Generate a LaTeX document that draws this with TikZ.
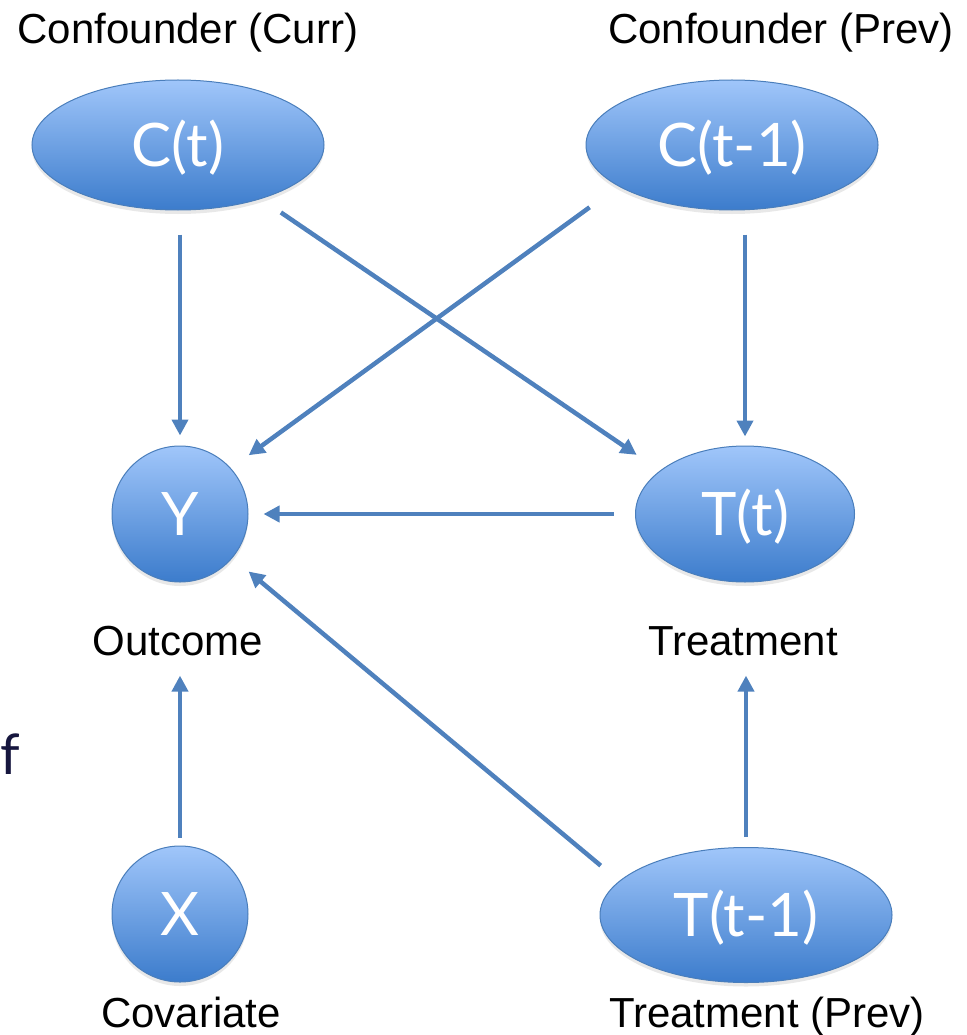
\documentclass[tikz,border=0pt]{standalone}
\usepackage{fontspec}
\setmainfont{Liberation Sans}
\newfontfamily\gillfont{Lato}
\usetikzlibrary{arrows.meta,shapes.geometric,shadows}
\definecolor{arrowblue}{RGB}{79,129,189}
\definecolor{ntop}{RGB}{160,198,250}
\definecolor{nbot}{RGB}{60,124,204}
\definecolor{nedge}{RGB}{74,126,187}
\definecolor{navy}{RGB}{22,22,62}
\begin{document}
\begin{tikzpicture}[x=1pt,y=-1pt,
  var/.style={draw=nedge, line width=1pt, top color=ntop, bottom color=nbot,
    text=white, font=\gillfont\fontsize{60}{64}\selectfont, inner sep=0pt,
    text height=43pt, text depth=0pt,
    drop shadow={opacity=0.18, shadow xshift=0pt, shadow yshift=-4pt}},
  evar/.style={var, ellipse},
  cvar/.style={var, circle, minimum size=136pt},
  lbl/.style={font=\fontsize{42}{48}\selectfont, inner sep=0pt, anchor=base},
  arr/.style={draw=arrowblue, line width=4.5pt, -{Triangle[length=16pt,width=16pt]}}]
\useasboundingbox (0,0) rectangle (966,1035);

% labels
\node[lbl] (lct) at (188,44) {Confounder (Curr)};
\node[lbl] (lcp) at (781,44) {Confounder (Prev)};
\node[lbl] (lo) at (178,655) {Outcome};
\node[lbl] (lt) at (743,655) {Treatment};
\node[lbl] (lx) at (191,1027) {Covariate};
\node[lbl] (ltp) at (767,1027) {Treatment (Prev)};
\node[font=\gillfont\fontsize{56}{60}\selectfont, text=navy, anchor=base west, inner sep=0pt] (frag) at (0,774) {f};

% variables
\node[evar, minimum width=292pt, minimum height=130pt] (ct) at (178,145) {C(t)};
\node[evar, minimum width=292pt, minimum height=130pt] (cp) at (732,145) {C(t-1)};
\node[cvar] (y) at (180,514) {Y};
\node[evar, minimum width=219pt, minimum height=136pt] (tt) at (745,514) {T(t)};
\node[cvar] (x) at (180,914) {X};
\node[evar, minimum width=292pt, minimum height=135pt] (tp) at (746,915) {T(t-1)};

% connectors
\draw[arr, shorten <=24pt, shorten >=10pt] (ct.south -| y.north) -- (y.north);
\draw[arr, shorten <=24pt, shorten >=28pt] (ct.-33.1) -- (tt.153);
\draw[arr, shorten <=35.6pt, shorten >=22pt] (cp.-160.9) -- (y.42.4);
\draw[arr, shorten <=24pt, shorten >=9pt] (cp.south -| tt.north) -- (tt.north);
\draw[arr, shorten <=21.5pt, shorten >=15pt] (tt.west) -- (y.east);
\draw[arr, shorten <=24pt, shorten >=21pt] (tp.165.1) -- (y.-40.6);
\draw[arr, shorten <=8pt, shorten >=20pt] (x.north) -- (x.north |- lo.south);
\draw[arr, shorten <=10pt, shorten >=20pt] (tp.north) -- (tp.north |- lt.south);
\end{tikzpicture}
\end{document}
